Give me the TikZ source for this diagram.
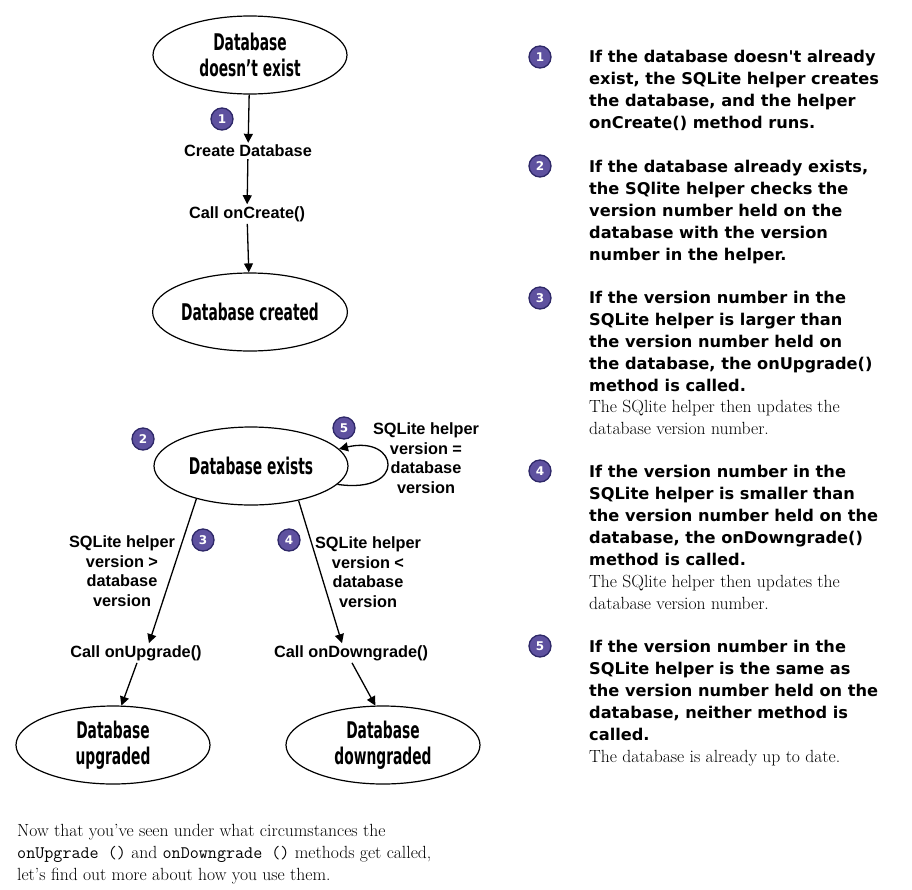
\documentclass[tikz,border=0pt]{standalone}
\usepackage{fontspec}
\usetikzlibrary{shapes.geometric,arrows.meta}
\newfontfamily\handfont[FakeStretch=0.6]{DejaVu Sans}
\newfontfamily\labelfont{Liberation Sans}
\newfontfamily\notefont{DejaVu Sans}
\definecolor{numfill}{HTML}{5E519F}
\definecolor{numdraw}{HTML}{2E2868}
\tikzset{
  dbell/.style={draw, ellipse, line width=1.2pt, minimum width=194pt, minimum height=78pt, inner sep=0pt, align=center, font=\handfont\bfseries\fontsize{23}{26}\selectfont},
  lbl/.style={align=center, inner sep=2pt, font=\labelfont\bfseries\fontsize{16.3}{19.5}\selectfont},
  num/.style={circle, fill=numfill, draw=numdraw, line width=1.3pt, minimum size=22pt, inner sep=0pt, text=white, font=\notefont\bfseries\fontsize{12}{12}\selectfont},
  note/.style={anchor=north west, align=left, inner sep=0pt, font=\notefont\bfseries\fontsize{16.2}{22}\selectfont},
  sub/.style={anchor=north west, align=left, inner sep=0pt, font=\fontsize{17.6}{21.5}\selectfont},
  para/.style={anchor=north west, align=left, inner sep=0pt, font=\fontsize{17.6}{22}\selectfont},
  arr/.style={line width=1.3pt, -{Triangle[length=9pt,width=9pt]}},
}
\begin{document}
\begin{tikzpicture}[x=1pt,y=-1pt]
\useasboundingbox (0,0) rectangle (912,889);
% ---------- upper flow ----------
\node[dbell] (e1) at (250,55) {Database\\doesn’t exist};
\node[lbl] (create) at (248,151) {Create Database};
\node[lbl] (oncreate) at (247,214) {Call onCreate()};
\node[dbell] (e2) at (250,312) {Database created};
\node[num] (d1) at (222,119) {1};
\draw[arr] (e1) -- (create);
\draw[arr] (create) -- (oncreate);
\draw[arr] (oncreate) -- (e2);
% ---------- lower flow ----------
\node[dbell] (e3) at (251,466) {Database exists};
\node[num] (d2) at (143,439) {2};
\node[num] (d5) at (344,428) {5};
\node[lbl] (same) at (426,458) {SQLite helper\\version =\\database\\version};
\draw[arr] (e3.-12) .. controls +(70,10) and +(60,-14) .. (e3.11);
\node[lbl] (up) at (136,653) {Call onUpgrade()};
\node[lbl] (down) at (351,653) {Call onDowngrade()};
\node[lbl] (gt) at (122,571) {SQLite helper\\version >\\database\\version};
\node[lbl] (lt) at (368,572) {SQLite helper\\version <\\database\\version};
\node[num] (d3) at (203,540) {3};
\node[num] (d4) at (289,540) {4};
\draw[arr] (e3.211) -- ([xshift=13pt]up.north);
\draw[arr] (e3.-36) -- ([xshift=-9pt]down.north);
\node[dbell] (e4) at (113,745) {Database\\upgraded};
\node[dbell] (e5) at (383,745) {Database\\downgraded};
\draw[arr] ([xshift=1pt]up.south) -- (e4.78);
\draw[arr] ([xshift=1pt]down.south) -- (e5.101);
% ---------- right notes ----------
\node[num] (r1) at (540,57) {1};
\node[num] (r2) at (540,166) {2};
\node[num] (r3) at (540,298) {3};
\node[num] (r4) at (540,471) {4};
\node[num] (r5) at (540,646) {5};
\node[note] (t1) at (589,50) {If the database doesn't already\\exist, the SQLite helper creates\\the database, and the helper\\onCreate() method runs.};
\node[note] (t2) at (589,160) {If the database already exists,\\the SQlite helper checks the\\version number held on the\\database with the version\\number in the helper.};
\node[note] (t3) at (589,291) {If the version number in the\\SQLite helper is larger than\\the version number held on\\the database, the onUpgrade()\\method is called.};
\node[sub] (s3) at (589,400) {The SQlite helper then updates the\\database version number.};
\node[note] (t4) at (589,465) {If the version number in the\\SQLite helper is smaller than\\the version number held on the\\database, the onDowngrade()\\method is called.};
\node[sub] (s4) at (589,575) {The SQlite helper then updates the\\database version number.};
\node[note] (t5) at (589,640) {If the version number in the\\SQLite helper is the same as\\the version number held on the\\database, neither method is\\called.};
\node[sub] (s5) at (589,750) {The database is already up to date.};
% ---------- bottom paragraph ----------
\node[para] (p) at (17,824) {Now that you’ve seen under what circumstances the\\{\ttfamily onUpgrade ()} and {\ttfamily onDowngrade ()} methods get called,\\let’s find out more about how you use them.};
\end{tikzpicture}
\end{document}
